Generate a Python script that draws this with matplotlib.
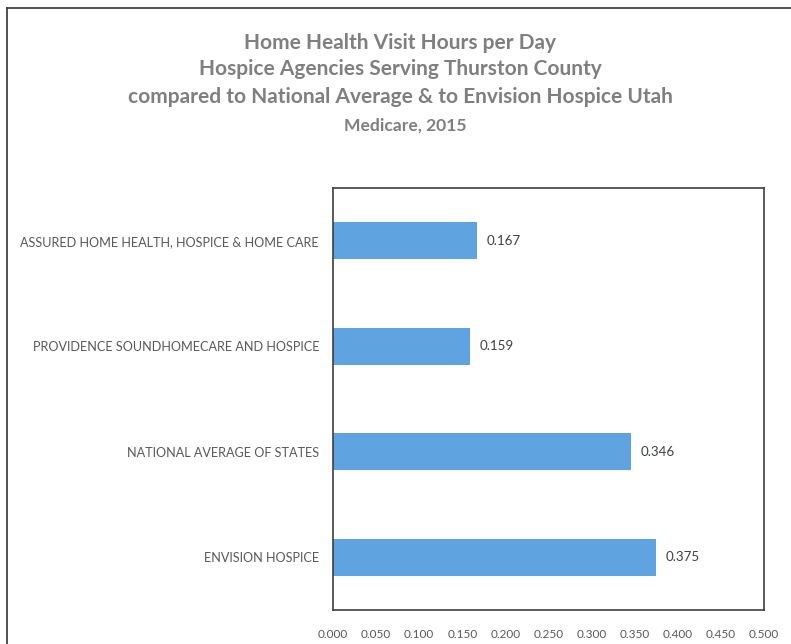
import matplotlib
matplotlib.use("Agg")
import matplotlib.pyplot as plt
from matplotlib.lines import Line2D

# data, top to bottom as in the chart
agencies = ["ASSURED HOME HEALTH, HOSPICE & HOME CARE",
            "PROVIDENCE SOUNDHOMECARE AND HOSPICE",
            "NATIONAL AVERAGE OF STATES",
            "ENVISION HOSPICE"]
hours = [0.167, 0.159, 0.346, 0.375]
xticks = [0.0, 0.05, 0.1, 0.15, 0.2, 0.25, 0.3, 0.35, 0.4, 0.45, 0.5]

title_lines = ["Home Health Visit Hours per Day",
               "Hospice Agencies Serving Thurston County",
               "compared to National Average & to Envision Hospice Utah"]
subtitle = "Medicare, 2015"

plt.rcParams['font.family'] = ['Lato', 'DejaVu Sans']

W, H = 791, 644
fig = plt.figure(figsize=(W / 100, H / 100), dpi=100)
ax = fig.add_axes([333 / W, 1 - 610 / H, (764 - 333) / W, (610 - 188) / H])

ypos = list(range(len(agencies)))[::-1]
ax.barh(ypos, hours, height=0.35, color="#5fa3e0")
for y, v in zip(ypos, hours):
    ax.text(v + 0.011, y, "%.3f" % v, va="center", ha="left", fontsize=9.6, color="#404040")

ax.set_xlim(0, 0.5)
ax.set_ylim(-0.5, len(agencies) - 0.5)
ax.set_xticks(xticks)
ax.set_xticklabels(["%.3f" % t for t in xticks], fontsize=8.5, color="#595959")
ax.set_yticks(ypos)
ax.set_yticklabels(agencies, fontsize=9.1, color="#595959")
ax.tick_params(length=0)
ax.tick_params(axis="x", pad=14)
ax.tick_params(axis="y", pad=10)
for s in ax.spines.values():
    s.set_color("#404040")
    s.set_linewidth(1.2)

# title block
ys = [43, 69, 97]
for t, y in zip(title_lines, ys):
    fig.text(400 / W, 1 - y / H, t, ha="center", va="center", fontsize=15,
             fontweight="bold", color="#7f7f7f")
fig.text(405 / W, 1 - 126 / H, subtitle, ha="center", va="center", fontsize=12.6,
         fontweight="bold", color="#7f7f7f")

# page frame edges from the scan
fig.add_artist(Line2D([7 / W, 7 / W], [0, 1 - 8 / H], color="#333333", lw=1.2))
fig.add_artist(Line2D([7 / W, 1], [1 - 8 / H, 1 - 8 / H], color="#333333", lw=1.2))

fig.savefig("out.png", dpi=100)
